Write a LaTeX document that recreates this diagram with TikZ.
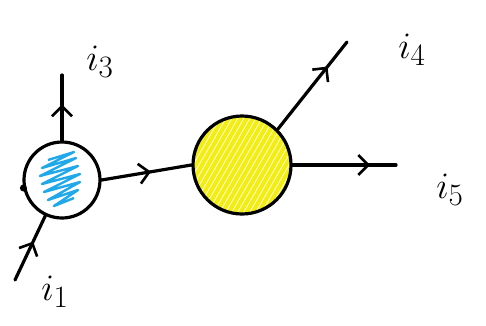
\documentclass[tikz,border=0pt]{standalone}
\usetikzlibrary{decorations.markings,arrows.meta}
\definecolor{scribblue}{HTML}{20A8E8}
\definecolor{scribyellow}{HTML}{F4EE10}
\newcommand{\biglbl}[1]{\scalebox{1.5}{$#1$}}
\begin{document}
\begin{tikzpicture}[x=1pt,y=-1pt,
  wire/.style={line width=3.2pt,line cap=round},
  midarrow/.style={postaction={decorate},decoration={markings,
     mark=at position #1 with {\arrow[line width=2.6pt]{Straight Barb[length=10pt,width=20pt]}}}},
  blob/.style={circle,draw,line width=3.2pt,inner sep=0pt},
  lbl/.style={font=\Huge,inner sep=0pt}]
\useasboundingbox (0,0) rectangle (486,325);
% blue node
\node[blob,minimum size=76pt,
  path picture={
    \draw[scribblue,line width=2.4pt,line join=round]
      (-14,-20) -- (12,-28) -- (-20,-12) -- (14,-22) -- (-22,-4) -- (16,-14)
      -- (-20,4) -- (18,-6) -- (-18,12) -- (18,2) -- (-14,20) -- (16,10)
      -- (-8,26) -- (12,18);
  }] (b) at (62,180) {};
% yellow node
\node[blob,minimum size=98pt,
  path picture={
    \foreach \k in {-70,-64,...,70}{
      \draw[scribyellow,line width=4.2pt] (\k-30,52) -- (\k+30,-52);
    }
  }] (y) at (242,165) {};
\fill (b.west) ++(1,8) circle (3.5pt);
% coordinates for free ends
\coordinate (t3) at (62,75);
\coordinate (s1) at (15,280);
\coordinate (t4) at (347,42);
\coordinate (t5) at (396,165);
% connectors
\draw[wire,midarrow=0.55] (b.north) -- (t3);
\draw[wire,midarrow=0.6] (s1) -- (b.-115);
\draw[wire,midarrow=0.55] (b.east) -- (y.west);
\draw[wire,midarrow=0.72] (y.45) -- (t4);
\draw[wire,midarrow=0.75] (y.east) -- (t5);
% labels
\node[lbl] (l3) at (100,62) {\biglbl{i_3}};
\node[lbl] (l1) at (55,292) {\biglbl{i_1}};
\node[lbl] (l4) at (412,50) {\biglbl{i_4}};
\node[lbl] (l5) at (450,190) {\biglbl{i_5}};
\end{tikzpicture}
\end{document}
